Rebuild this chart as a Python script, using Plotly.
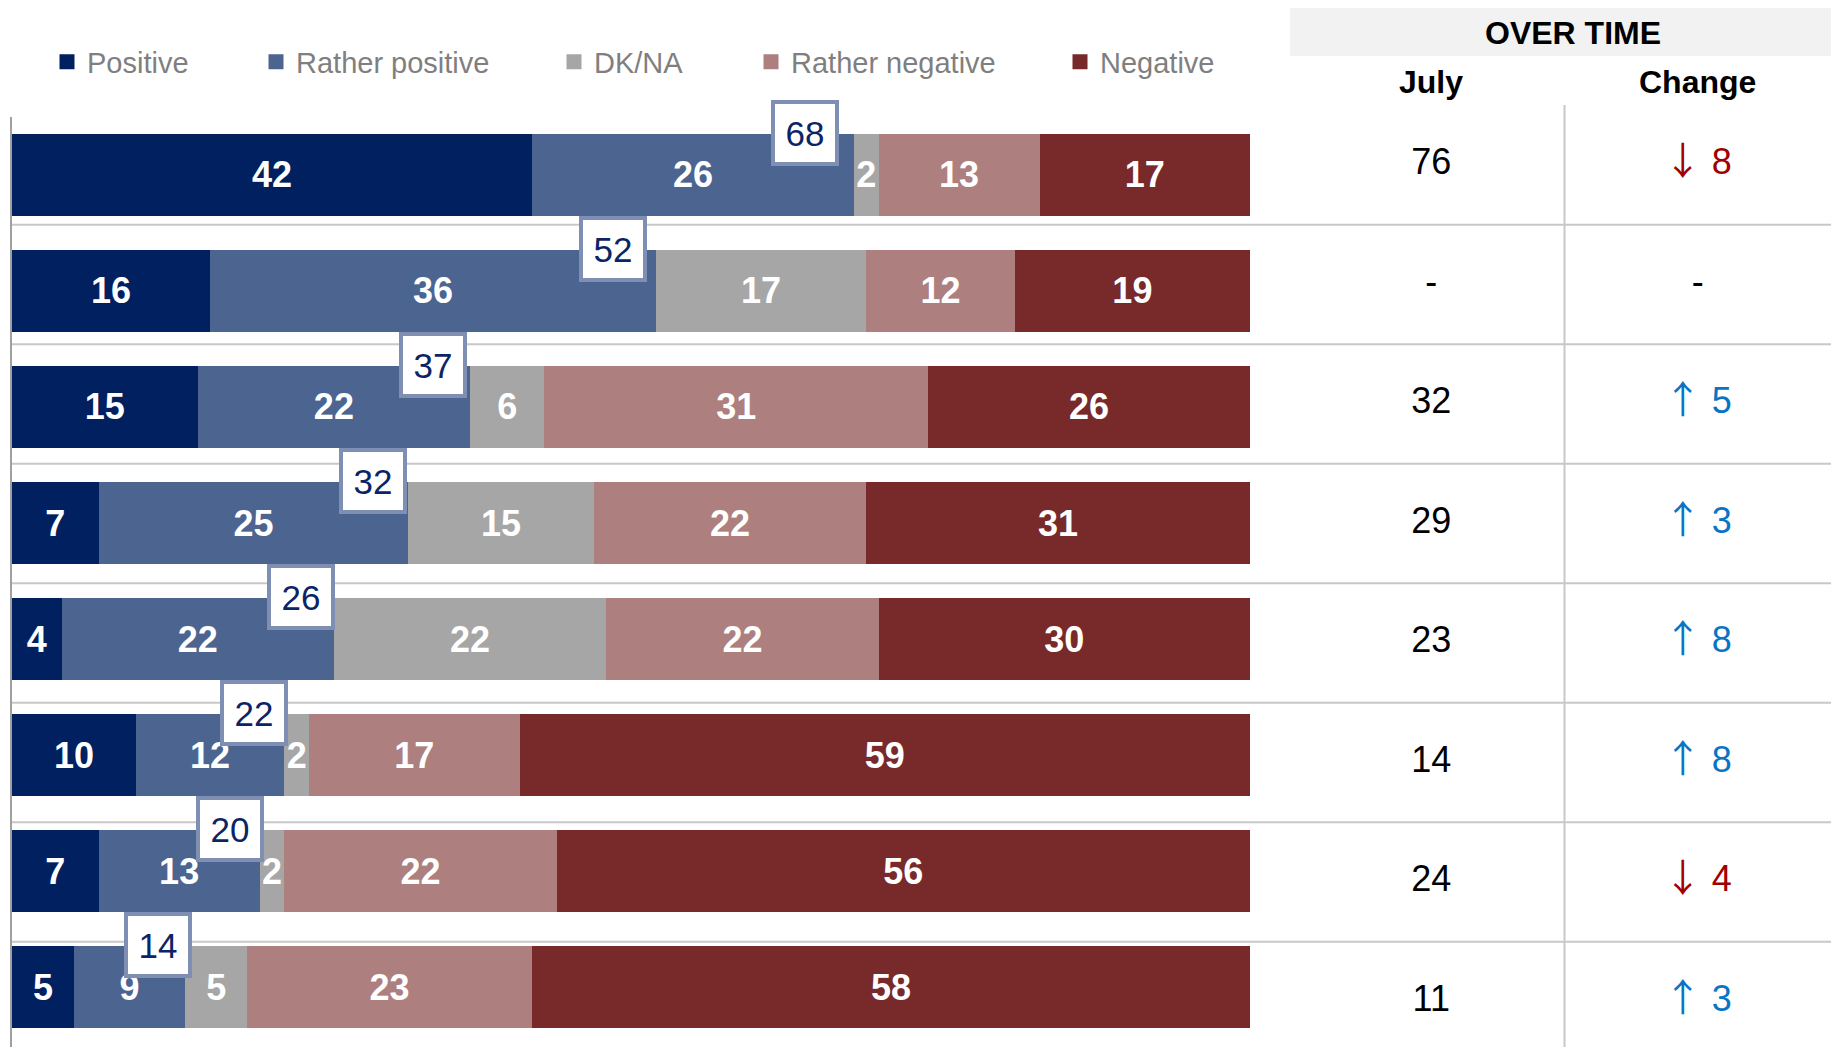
import plotly.graph_objects as go

# ---------------- data ----------------
rows = list(range(8))
positive = [42, 16, 15, 7, 4, 10, 7, 5]
rather_positive = [26, 36, 22, 25, 22, 12, 13, 9]
dkna = [2, 17, 6, 15, 22, 2, 2, 5]
rather_negative = [13, 12, 31, 22, 22, 17, 22, 23]
negative = [17, 19, 26, 31, 30, 59, 56, 58]
july = ["76", "-", "32", "29", "23", "14", "24", "11"]
change = [-8, None, 5, 3, 8, 8, -4, 3]

series_names = ["Positive", "Rather positive", "DK/NA", "Rather negative", "Negative"]
series_values = [positive, rather_positive, dkna, rather_negative, negative]
series_colors = ["#002060", "#4c6490", "#a6a6a6", "#ad7f7e", "#78292a"]

# page is 1839x1055; body has an 8px margin
OFF = 8
FW, FH = 1839 - 2 * OFF, 1055 - 2 * OFF
FONT = "Liberation Sans, Arial, sans-serif"


def fx(p):
    return min(1.0, max(0.0, (p - OFF) / FW))


def fy(p):
    return min(1.0, max(0.0, 1 - (p - OFF) / FH))


fig = go.Figure()

legend_text_px = [88, 297, 595, 792, 1101]
for k, (name, vals, col) in enumerate(zip(series_names, series_values, series_colors)):
    lg = "legend" if k == 0 else f"legend{k+1}"
    fig.add_trace(go.Bar(
        y=rows, x=vals, name=name, orientation="h",
        marker=dict(color=col, line=dict(width=0)),
        width=0.707,
        text=[str(v) for v in vals],
        textposition="inside", insidetextanchor="middle", textangle=0,
        textfont=dict(color="white", size=36, family=FONT, weight="bold"),
        showlegend=False, hoverinfo="skip",
    ))
    # legend entry
    fig.add_trace(go.Scatter(
        x=[None], y=[None], name=name, mode="markers",
        marker=dict(symbol="square", size=15, color=col),
        legend=lg, showlegend=True, hoverinfo="skip",
    ))

# table column texts
fig.add_trace(go.Scatter(
    x=[0] * len(rows), y=rows, text=july, mode="text",
    textfont=dict(size=36, color="#000000", family=FONT),
    xaxis="x2", yaxis="y2", showlegend=False, hoverinfo="skip",
))
change_text = []
change_color = []
ARROW = "<span style=\"font-family:'Noto Sans CJK JP';font-size:38px\">{}</span> {}"
for c in change:
    if c is None:
        change_text.append("-")
        change_color.append("#000000")
    elif c < 0:
        change_text.append(ARROW.format("↓", abs(c)))
        change_color.append("#a00000")
    else:
        change_text.append(ARROW.format("↑", c))
        change_color.append("#0a74c4")
fig.add_trace(go.Scatter(
    x=[1] * len(rows), y=rows, text=change_text, mode="text",
    textfont=dict(size=36, color=change_color, family=FONT),
    xaxis="x2", yaxis="y2", showlegend=False, hoverinfo="skip",
))

# total boxes
for i in rows:
    cum = positive[i] + rather_positive[i]
    fig.add_annotation(
        x=cum, y=i, xref="x", yref="y", text=str(cum), showarrow=False,
        xanchor="center", yanchor="middle",
        xshift=-(22 + 0.4 * cum), yshift=42,
        font=dict(size=35, color="#0b2466", family=FONT),
        bgcolor="white", bordercolor="#7f8fb3", borderwidth=4, borderpad=1,
        width=58, height=56,
    )

# header block
fig.add_shape(type="rect", xref="paper", yref="paper",
              x0=fx(1290), x1=fx(1831), y0=fy(56), y1=fy(6),
              fillcolor="#f2f2f2", line=dict(width=0), layer="below")
fig.add_annotation(x=fx(1573), y=fy(33), xref="paper", yref="paper",
                   text="OVER TIME", showarrow=False, xanchor="center", yanchor="middle",
                   font=dict(size=32, color="#000", family=FONT, weight="bold"))
for col_idx, label in enumerate(["July", "Change"]):
    fig.add_annotation(x=col_idx, y=fy(82), xref="x2", yref="paper",
                       text=label, showarrow=False, xanchor="center", yanchor="middle",
                       font=dict(size=32, color="#000", family=FONT, weight="bold"))

# dividers
for i in rows[:-1]:
    fig.add_shape(type="line", xref="paper", yref="y2",
                  x0=fx(11), x1=fx(1831), y0=i + 0.5, y1=i + 0.5,
                  line=dict(color="#c8c8c8", width=2), layer="below")
fig.add_shape(type="line", xref="x2", yref="paper", x0=0.5, x1=0.5,
              y0=0, y1=fy(105), line=dict(color="#c8c8c8", width=2), layer="below")
# left axis line
fig.add_shape(type="line", xref="paper", yref="paper", x0=fx(11), x1=fx(11),
              y0=fy(1047), y1=fy(117), line=dict(color="#a0a0a0", width=2))

legend_common = dict(orientation="h", yanchor="middle", y=fy(62), xanchor="left",
                     font=dict(size=29, color="#7f7f7f", family=FONT),
                     bgcolor="rgba(0,0,0,0)", itemwidth=30)
layout_legends = {}
for k in range(5):
    key = "legend" if k == 0 else f"legend{k+1}"
    layout_legends[key] = dict(legend_common, x=(legend_text_px[k] - OFF - 41) / FW)

pitch_bar, c0_bar = 116.1, 174.7 - OFF
pitch_tab, c0_tab = 119.5, 165.0 - OFF

fig.update_layout(
    width=FW, height=FH, margin=dict(l=0, r=0, t=0, b=0),
    paper_bgcolor="white", plot_bgcolor="rgba(0,0,0,0)",
    barmode="stack", showlegend=True,
    uniformtext=dict(minsize=36, mode="show"),
    xaxis=dict(domain=[fx(12), fx(1250)], range=[0, 100], visible=False, fixedrange=True),
    yaxis=dict(domain=[0, 1],
               range=[7 + (FH - (c0_bar + 7 * pitch_bar)) / pitch_bar, -c0_bar / pitch_bar],
               visible=False, fixedrange=True),
    xaxis2=dict(domain=[fx(1298), fx(1831)], range=[-0.5, 1.5], visible=False,
                anchor="y2", fixedrange=True),
    yaxis2=dict(domain=[0, 1],
                range=[7 + (FH - (c0_tab + 7 * pitch_tab)) / pitch_tab, -c0_tab / pitch_tab],
                visible=False, anchor="x2", overlaying="y", fixedrange=True),
    **layout_legends,
)

fig.write_html("out.html")
